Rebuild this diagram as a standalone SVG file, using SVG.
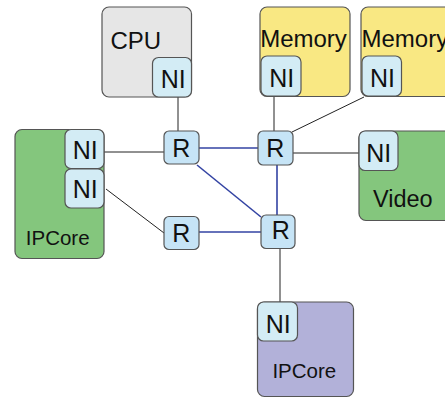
<svg xmlns="http://www.w3.org/2000/svg" width="445" height="398" viewBox="0 0 445 398">
  <style>
    text { font-family: "Liberation Sans", Arial, sans-serif; fill: #111; }
    .core { stroke: #555; stroke-width: 1.2; }
    .cpu { fill: #e6e6e6; }
    .mem { fill: #f9e883; }
    .green { fill: #84c67d; }
    .purple { fill: #b2b1d9; }
    .ni { fill: #d3ecf5; stroke: #555; stroke-width: 1.2; }
    .r { fill: #c6e4f6; stroke: #555; stroke-width: 1.2; }
    .lbl { font-size: 24px; }
    .vid { font-size: 23.5px; }
    .small { font-size: 20.5px; }
    .tag { font-size: 25px; text-anchor: middle; }
    .link { stroke: #222; stroke-width: 1; fill: none; }
    .mesh { stroke: #3343a3; stroke-width: 1.6; fill: none; }
  </style>

  <!-- connectors -->
  <g id="connectors">
    <line class="link" x1="178" y1="97" x2="178" y2="131"/>
    <line class="link" x1="274" y1="97" x2="274" y2="131"/>
    <line class="link" x1="364" y1="97" x2="292" y2="132"/>
    <line class="link" x1="104" y1="152" x2="164" y2="152"/>
    <line class="link" x1="293" y1="153" x2="359" y2="153"/>
    <line class="link" x1="106" y1="189" x2="164" y2="233"/>
    <line class="link" x1="280" y1="248" x2="280" y2="302"/>
    <line class="mesh" x1="199" y1="148" x2="258" y2="148"/>
    <line class="mesh" x1="197" y1="165" x2="261" y2="217"/>
    <line class="mesh" x1="277" y1="165" x2="277" y2="215"/>
    <line class="mesh" x1="199" y1="232" x2="261" y2="232"/>
  </g>

  <!-- CPU -->
  <g id="cpu">
    <rect class="core cpu" x="102" y="7" width="89.5" height="90" rx="7"/>
    <text class="lbl" x="110.5" y="49">CPU</text>
    <rect class="ni" x="152.5" y="57.5" width="39" height="39.5" rx="6"/>
    <text class="tag" x="173.3" y="88.3">NI</text>
  </g>

  <!-- Memory 1 -->
  <g id="memory1">
    <rect class="core mem" x="260" y="7" width="90" height="89.5" rx="7"/>
    <text class="lbl" x="260.2" y="46.7">Memory</text>
    <rect class="ni" x="261" y="56" width="40" height="40" rx="6"/>
    <text class="tag" x="281.7" y="87.3">NI</text>
  </g>

  <!-- Memory 2 -->
  <g id="memory2">
    <rect class="core mem" x="361" y="7" width="95" height="89.5" rx="7"/>
    <text class="lbl" x="361.5" y="46.7">Memory</text>
    <rect class="ni" x="362" y="56" width="39.5" height="40" rx="6"/>
    <text class="tag" x="382.5" y="87.3">NI</text>
  </g>

  <!-- IPCore (left) -->
  <g id="ipcore-left">
    <rect class="core green" x="15" y="129.5" width="89" height="129" rx="7"/>
    <text class="small" x="25.8" y="245">IPCore</text>
    <rect class="ni" x="65" y="129.5" width="39" height="39" rx="6"/>
    <text class="tag" x="85.3" y="159.3">NI</text>
    <rect class="ni" x="65" y="169" width="39" height="39" rx="6"/>
    <text class="tag" x="85.3" y="198.3">NI</text>
  </g>

  <!-- Video -->
  <g id="video">
    <rect class="core green" x="359" y="131" width="97" height="89.5" rx="7"/>
    <text class="vid" x="373" y="207.3">Video</text>
    <rect class="ni" x="359" y="131" width="39" height="39.5" rx="6"/>
    <text class="tag" x="378.8" y="161.7">NI</text>
  </g>

  <!-- IPCore (bottom) -->
  <g id="ipcore-bottom">
    <rect class="core purple" x="257.5" y="302" width="96" height="94.5" rx="7"/>
    <text class="small" x="272.4" y="377.7">IPCore</text>
    <rect class="ni" x="257.5" y="302" width="40" height="39" rx="6"/>
    <text class="tag" x="278.3" y="332.7">NI</text>
  </g>

  <!-- routers -->
  <g id="router1">
    <rect class="r" x="164" y="131" width="35" height="33" rx="5"/>
    <text class="tag" x="181.3" y="156.7">R</text>
  </g>
  <g id="router2">
    <rect class="r" x="258" y="131" width="35" height="34" rx="5"/>
    <text class="tag" x="275.3" y="156.7">R</text>
  </g>
  <g id="router3">
    <rect class="r" x="164" y="216.5" width="35" height="33" rx="5"/>
    <text class="tag" x="181.3" y="241.7">R</text>
  </g>
  <g id="router4">
    <rect class="r" x="261" y="215" width="34" height="33.5" rx="5"/>
    <text class="tag" x="280.9" y="239">R</text>
  </g>
</svg>
